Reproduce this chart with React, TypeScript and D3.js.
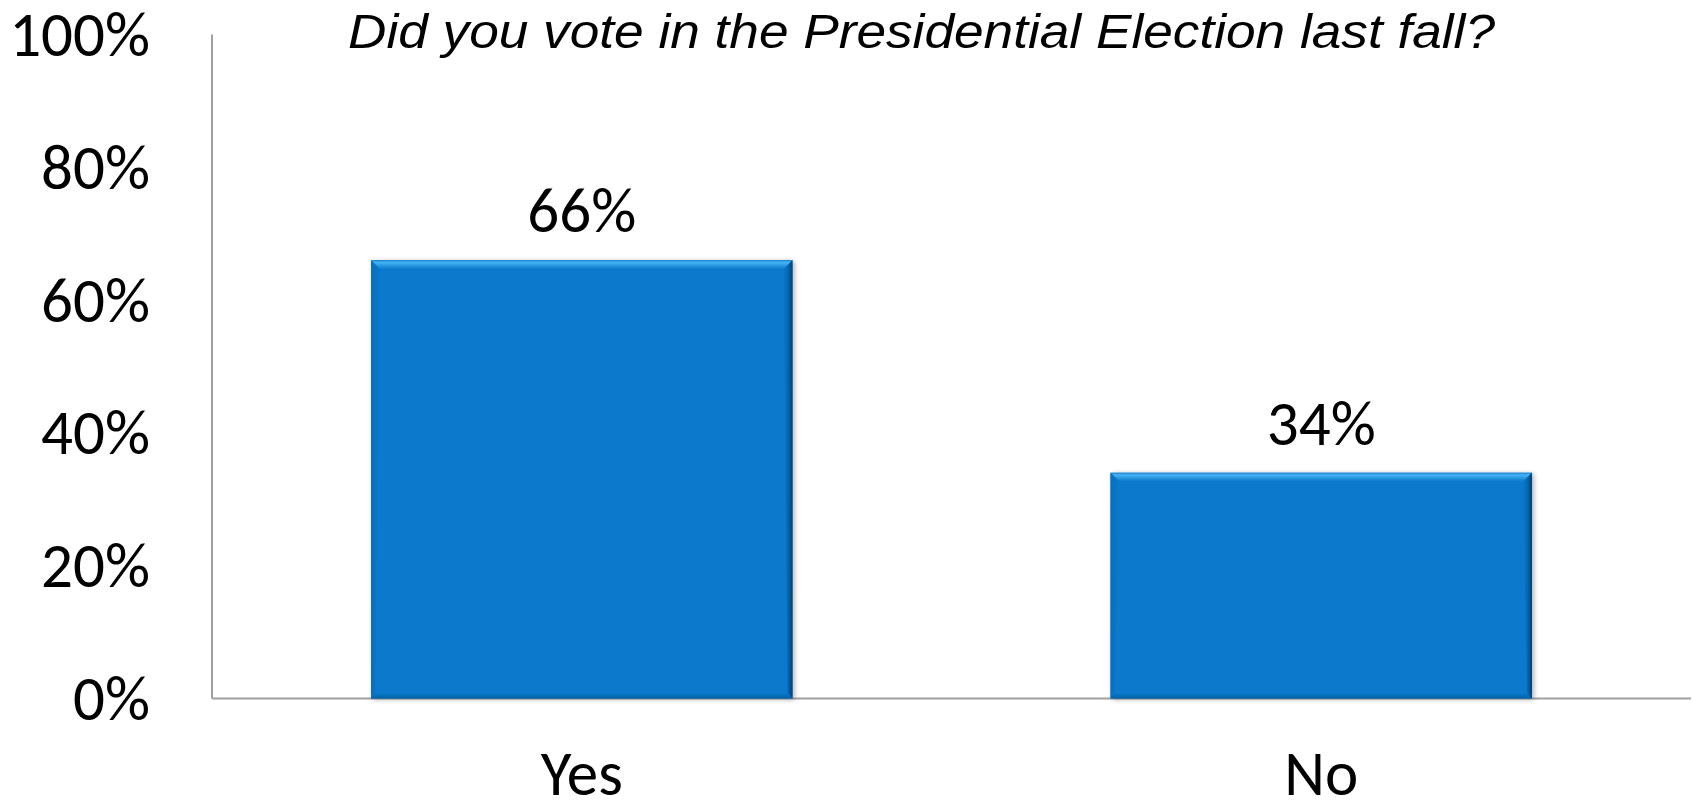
import React from "react";
import * as d3 from "d3";

const categories = ["Yes", "No"];
const values = [66, 34];
const yTicks = [0, 20, 40, 60, 80, 100];
const title = "Did you vote in the Presidential Election last fall?";

const W = 1693;
const H = 805;
const M = { left: 212, right: 2, top: 34.5, bottom: 106.5 };

export default function App() {
  const x = d3
    .scaleBand<string>()
    .domain(categories)
    .range([M.left, W - M.right])
    .paddingInner(0.43)
    .paddingOuter(0.215);
  const y = d3.scaleLinear().domain([0, 100]).range([H - M.bottom, M.top]);
  const base = y(0);
  const font = "Carlito, Calibri, Lato, 'Open Sans', sans-serif";
  const bw = x.bandwidth();
  const bev = 9;
  const fs = 63;

  return (
    <svg
      width={W}
      height={H}
      style={{ position: "absolute", left: 0, top: 0, background: "#fff" }}
    >
      <defs>
        <linearGradient id="topBevel" x1="0" y1="0" x2="0" y2="1">
          <stop offset="0" stopColor="#1a7fcf" />
          <stop offset="0.25" stopColor="#45b4f5" />
          <stop offset="0.6" stopColor="#2a95df" />
          <stop offset="1" stopColor="#0779cc" />
        </linearGradient>
        <linearGradient id="rightBevel" x1="0" y1="0" x2="1" y2="0">
          <stop offset="0" stopColor="#0779cc" />
          <stop offset="0.5" stopColor="#0568b0" />
          <stop offset="1" stopColor="#033f70" />
        </linearGradient>
        <linearGradient id="leftBevel" x1="0" y1="0" x2="1" y2="0">
          <stop offset="0" stopColor="#0a6fbb" />
          <stop offset="1" stopColor="#0779cc" />
        </linearGradient>
        <linearGradient id="bottomBevel" x1="0" y1="0" x2="0" y2="1">
          <stop offset="0" stopColor="#0779cc" />
          <stop offset="1" stopColor="#05609f" />
        </linearGradient>
        <filter id="shadow" x="-5%" y="-5%" width="110%" height="110%">
          <feDropShadow dx="2" dy="1" stdDeviation="2.5" floodColor="#000" floodOpacity="0.3" />
        </filter>
      </defs>

      {/* axes */}
      <line x1={M.left} x2={M.left} y1={M.top} y2={base} stroke="#a0a0a0" strokeWidth={2} />
      <line x1={M.left} x2={W - M.right} y1={base} y2={base} stroke="#a0a0a0" strokeWidth={2} />

      {yTicks.map((t) => (
        <text
          key={t}
          x={150}
          y={y(t)}
          textAnchor="end"
          dominantBaseline="central"
          fontFamily={font}
          fontSize={fs}
          fill="#000"
        >
          {t}%
        </text>
      ))}

      {categories.map((c, i) => {
        const x0 = x(c) as number;
        const x1 = x0 + bw;
        const y0 = y(values[i]);
        return (
          <g key={c}>
            <rect x={x0} y={y0} width={bw} height={base - y0} fill="#0779cc" filter="url(#shadow)" />
            <polygon
              points={`${x0},${y0} ${x1},${y0} ${x1 - bev},${y0 + bev} ${x0 + bev},${y0 + bev}`}
              fill="url(#topBevel)"
            />
            <polygon
              points={`${x1},${y0} ${x1},${base} ${x1 - 5},${base - 5} ${x1 - bev},${y0 + bev}`}
              fill="url(#rightBevel)"
            />
            <polygon
              points={`${x0},${y0} ${x0 + bev},${y0 + bev} ${x0 + 4},${base - 4} ${x0},${base}`}
              fill="url(#leftBevel)"
            />
            <polygon
              points={`${x0},${base} ${x0 + 4},${base - 5} ${x1 - 5},${base - 5} ${x1},${base}`}
              fill="url(#bottomBevel)"
            />
            <text
              x={x0 + bw / 2}
              y={y0 - 28}
              textAnchor="middle"
              fontFamily={font}
              fontSize={fs}
              fill="#000"
            >
              {values[i]}%
            </text>
            <text
              x={x0 + bw / 2}
              y={795}
              textAnchor="middle"
              fontFamily={font}
              fontSize={fs}
              fill="#000"
            >
              {c}
            </text>
          </g>
        );
      })}

      <text
        x={348}
        y={48}
        fontFamily="'Liberation Sans', Arial, sans-serif"
        fontStyle="italic"
        fontSize={48}
        textLength={1147}
        lengthAdjust="spacingAndGlyphs"
        fill="#000"
      >
        {title}
      </text>
    </svg>
  );
}
